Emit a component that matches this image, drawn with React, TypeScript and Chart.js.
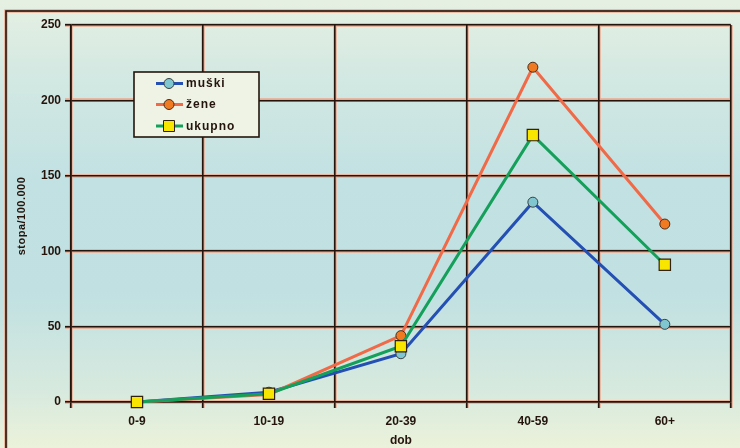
import React, { useEffect, useRef } from "react";
import { Chart, registerables } from "chart.js";

Chart.register(...registerables);

const categories = ["0-9", "10-19", "20-39", "40-59", "60+"];
const muski = [0, 6.5, 32, 132.5, 51.5];
const zene = [0, 5, 44, 222, 118];
const ukupno = [0, 5.5, 37, 177, 91];
const yTicks = [0, 50, 100, 150, 200, 250];

const DARK = "#24140c";
const HALO = "#eca88e";
const FONT = "'Liberation Sans', Arial, sans-serif";

const decorPlugin = {
  id: "decor",
  beforeDraw(chart: any) {
    const { ctx, chartArea } = chart;
    const { left, right, top, bottom } = chartArea;
    ctx.save();
    ctx.strokeStyle = HALO;
    ctx.lineWidth = 3.4;
    ctx.strokeRect(6, 11, 900, 600);
    const ys = chart.scales.y;
    for (const v of yTicks) {
      const y = Math.round(ys.getPixelForValue(v));
      ctx.beginPath();
      ctx.moveTo(left - 6, y);
      ctx.lineTo(right, y);
      ctx.stroke();
    }
    const n = categories.length;
    for (let i = 0; i <= n; i++) {
      const x = Math.round(left + (i * (right - left)) / n);
      ctx.beginPath();
      ctx.moveTo(x, top);
      ctx.lineTo(x, bottom + 6);
      ctx.stroke();
    }
    ctx.strokeStyle = DARK;
    ctx.lineWidth = 1.6;
    ctx.strokeRect(6, 11, 900, 600);
    ctx.restore();
  },
  afterDraw(chart: any) {
    const { ctx } = chart;
    ctx.save();
    ctx.fillStyle = DARK;
    ctx.font = `bold 11px ${FONT}`;
    (ctx as any).letterSpacing = "0.5px";
    ctx.translate(22, 216);
    ctx.rotate(-Math.PI / 2);
    ctx.textAlign = "center";
    ctx.textBaseline = "middle";
    ctx.fillText("stopa/100.000", 0, 0);
    ctx.restore();

    ctx.save();
    const bx = 134, by = 72, bw = 125, bh = 65;
    ctx.fillStyle = "#eef3e6";
    ctx.fillRect(bx, by, bw, bh);
    ctx.strokeStyle = DARK;
    ctx.lineWidth = 1.6;
    ctx.strokeRect(bx, by, bw, bh);
    const rows = [83.5, 104.5, 126];
    chart.data.datasets.forEach((ds: any, i: number) => {
      const y = rows[i];
      ctx.strokeStyle = ds.borderColor;
      ctx.lineWidth = 3;
      ctx.beginPath();
      ctx.moveTo(156, y);
      ctx.lineTo(183, y);
      ctx.stroke();
      ctx.fillStyle = ds.pointBackgroundColor;
      ctx.strokeStyle = ds.pointBorderColor;
      ctx.lineWidth = 1;
      if (ds.pointStyle === "rect") {
        ctx.beginPath();
        ctx.rect(169 - 5.5, y - 5.5, 11, 11);
        ctx.fill();
        ctx.stroke();
      } else {
        ctx.beginPath();
        ctx.arc(169, y, 5, 0, Math.PI * 2);
        ctx.fill();
        ctx.stroke();
      }
      ctx.fillStyle = DARK;
      ctx.font = `bold 12px ${FONT}`;
      (ctx as any).letterSpacing = "1px";
      ctx.textAlign = "left";
      ctx.textBaseline = "middle";
      ctx.fillText(ds.label, 186, y + 0.5);
    });
    ctx.restore();
  },
};

export default function App() {
  const ref = useRef<HTMLCanvasElement>(null);
  useEffect(() => {
    if (!ref.current) return;
    const chart = new Chart(ref.current, {
      type: "line",
      data: {
        labels: categories,
        datasets: [
          {
            label: "muški",
            data: muski,
            borderColor: "#2450b4",
            borderWidth: 3,
            pointBackgroundColor: "#80c6d0",
            pointBorderColor: "#3a4040",
            pointBorderWidth: 1,
            pointRadius: 5,
            pointStyle: "circle",
            order: 3,
            clip: false,
          },
          {
            label: "žene",
            data: zene,
            borderColor: "#f06a48",
            borderWidth: 3,
            pointBackgroundColor: "#f07a22",
            pointBorderColor: "#4a2a18",
            pointBorderWidth: 1,
            pointRadius: 5,
            pointStyle: "circle",
            order: 2,
            clip: false,
          },
          {
            label: "ukupno",
            data: ukupno,
            borderColor: "#14a05a",
            borderWidth: 3,
            pointBackgroundColor: "#f8e600",
            pointBorderColor: "#302010",
            pointBorderWidth: 1.2,
            pointRadius: 8,
            pointStyle: "rect",
            order: 1,
            clip: false,
          },
        ] as any,
      },
      options: {
        animation: false,
        responsive: false,
        devicePixelRatio: 1,
        layout: { padding: { top: 25, right: 8, left: 0, bottom: 0 } },
        plugins: { legend: { display: false }, tooltip: { enabled: false } },
        elements: { line: { tension: 0 } },
        scales: {
          x: {
            type: "category",
            offset: true,
            grid: { offset: true, color: DARK, lineWidth: 1.6, tickLength: 6, tickColor: DARK },
            border: { display: true, color: DARK, width: 1.6 },
            ticks: { color: DARK, font: { family: FONT, size: 12, weight: "bold" }, padding: 6, maxRotation: 0 },
            title: { display: true, text: "dob", color: DARK, font: { family: FONT, size: 12, weight: "bold" }, padding: { top: 0, bottom: 0 } },
            afterFit: (s: any) => { s.height = 46; },
          },
          y: {
            min: 0,
            max: 250,
            ticks: { stepSize: 50, color: DARK, font: { family: FONT, size: 12, weight: "bold" }, padding: 4 },
            grid: { color: DARK, lineWidth: 1.6, tickLength: 6, tickColor: DARK },
            border: { display: true, color: DARK, width: 1.6 },
            afterFit: (s: any) => { s.width = 71; },
          },
        },
      } as any,
      plugins: [decorPlugin],
    });
    return () => chart.destroy();
  }, []);
  return (
    <div
      style={{
        position: "fixed",
        left: 0,
        top: 0,
        width: 740,
        height: 448,
        background:
          "linear-gradient(to bottom, #e6f0e2 0%, #d2e8e2 18%, #c2e1e3 40%, #c0e0e2 65%, #d8eade 88%, #ecf2da 100%)",
      }}
    >
      <canvas ref={ref} width={740} height={448} style={{ display: "block" }} />
    </div>
  );
}
